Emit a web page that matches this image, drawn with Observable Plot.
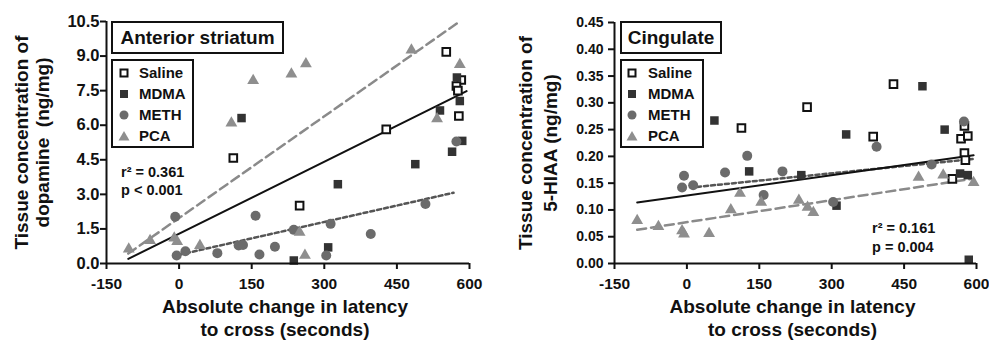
<!DOCTYPE html>
<html><head><meta charset="utf-8">
<script src="https://cdn.jsdelivr.net/npm/d3@7"></script>
<script src="https://cdn.jsdelivr.net/npm/@observablehq/plot@0.6"></script>
<style>
body{margin:0;background:#fff;font-family:"Liberation Sans",Arial,sans-serif;}
#wrap{position:relative;width:989px;height:340px;display:flex;overflow:hidden;}
.box{position:absolute;box-sizing:border-box;border:2px solid #111;background:#fff;}
.title{display:flex;align-items:center;justify-content:center;font-weight:bold;font-size:19px;color:#111;}
.lab{position:absolute;font-weight:bold;font-size:15px;color:#111;line-height:15px;white-space:nowrap;}
.sym{position:absolute;}
.ann{position:absolute;font-weight:bold;font-size:14.5px;color:#111;white-space:nowrap;line-height:18px;}
</style>
</head><body>
<div id="wrap"></div>
<script>
// ---------- shared ----------
const groups = ["Saline", "MDMA", "METH", "PCA"];
const xTicks = [-150, 0, 150, 300, 450, 600];
const xLabel1 = "Absolute change in latency";
const xLabel2 = "to cross (seconds)";

// ---------- Anterior striatum (dopamine, ng/mg) ----------
const striatumYTicks = [0, 1.5, 3, 4.5, 6, 7.5, 9, 10.5];
const striatumSaline = [[112,4.58],[249,2.51],[428,5.82],[552,9.18],[583,7.96],[573,7.7],[576,7.5],[578,6.4]];
const striatumMDMA = [[129,6.31],[237,0.13],[308,0.70],[328,3.44],[488,4.31],[539,6.64],[564,4.85],[585,5.32],[580,7.05],[574,8.07]];
const striatumMETH = [[-8,2.03],[-5,0.35],[13,0.53],[79,0.45],[123,0.78],[132,0.80],[158,2.07],[166,0.39],[198,0.73],[237,1.46],[304,0.35],[313,1.72],[396,1.28],[509,2.58],[573,5.29]];
const striatumPCA = [[-104,0.63],[-60,0.99],[-10,1.1],[-4,0.95],[43,0.78],[108,6.09],[153,7.94],[232,8.22],[249,1.35],[260,0.35],[262,8.66],[480,9.26],[533,6.28],[580,8.63]];
const striatumFitAll = [[-105,0.2],[594,7.48]];
const striatumFitPCA = [[-105,0.43],[577,10.46]];
const striatumFitMETH = [[0,0.38],[567,3.07]];
const striatumStats = ["r² = 0.361", "p < 0.001"];

// ---------- Cingulate (5-HIAA, ng/mg) ----------
const cingulateYTicks = [0, 0.05, 0.10, 0.15, 0.20, 0.25, 0.30, 0.35, 0.40, 0.45];
const cingulateSaline = [[113,0.253],[249,0.292],[428,0.335],[386,0.237],[575,0.257],[568,0.233],[582,0.238],[575,0.206],[577,0.193],[550,0.158]];
const cingulateMDMA = [[57,0.267],[129,0.172],[237,0.165],[310,0.108],[330,0.241],[488,0.331],[534,0.250],[566,0.168],[582,0.165],[584,0.007]];
const cingulateMETH = [[-6,0.164],[-10,0.142],[13,0.146],[79,0.170],[125,0.201],[159,0.128],[198,0.172],[303,0.115],[393,0.218],[507,0.185],[574,0.265]];
const cingulatePCA = [[-103,0.080],[-59,0.069],[-10,0.061],[-6,0.055],[46,0.056],[91,0.100],[110,0.131],[154,0.114],[232,0.118],[250,0.105],[262,0.095],[480,0.161],[531,0.165],[594,0.151]];
const cingulateFitAll = [[-103,0.114],[594,0.202]];
const cingulateFitPCA = [[-103,0.063],[590,0.158]];
const cingulateFitMETH = [[21,0.143],[592,0.195]];
const cingulateStats = ["r² = 0.161", "p = 0.004"];

// ---------- styles ----------
const INK = "#111", MDMA_C = "#333", METH_C = "#6b6b6b", PCA_C = "#8e8e8e";
const dotStyle = {
  Saline: {symbol: "square", r: 4.3, fill: "#fff", stroke: INK, strokeWidth: 2},
  MDMA: {symbol: "square", r: 4.8, fill: MDMA_C, stroke: "none"},
  METH: {symbol: "circle", r: 5, fill: METH_C, stroke: "none"},
  PCA: {symbol: "triangle", r: 4.4, fill: PCA_C, stroke: "none"}
};

function panel(cfg) {
  const xDomain = [xTicks[0], xTicks[xTicks.length - 1]];
  const yDomain = [cfg.yTicks[0], cfg.yTicks[cfg.yTicks.length - 1]];
  const sets = {Saline: cfg.saline, MDMA: cfg.mdma, METH: cfg.meth, PCA: cfg.pca};
  const lbl = {fontSize: 19, fontWeight: "bold", fill: INK, textAnchor: "middle", lineAnchor: "middle"};
  return Plot.plot({
    width: cfg.width, height: 340,
    marginLeft: cfg.marginLeft, marginRight: cfg.marginRight,
    marginTop: cfg.marginTop, marginBottom: 77,
    style: {fontFamily: "'Liberation Sans', Arial, sans-serif", fontWeight: "bold", color: INK, background: "#fff"},
    x: {domain: xDomain},
    y: {domain: yDomain},
    marks: [
      Plot.line(cfg.fitPCA, {x: (p) => p[0], y: (p) => p[1], stroke: "#8a8a8a", strokeWidth: 2.5, strokeDasharray: "9,5"}),
      Plot.line(cfg.fitMETH, {x: (p) => p[0], y: (p) => p[1], stroke: "#555", strokeWidth: 2.5, strokeDasharray: "4,3"}),
      Plot.line(cfg.fitAll, {x: (p) => p[0], y: (p) => p[1], stroke: INK, strokeWidth: 2}),
      ...groups.map((g) => Plot.dot(sets[g], {x: (p) => p[0], y: (p) => p[1], ...dotStyle[g]})),
      Plot.ruleX([xDomain[0]], {y1: yDomain[0], y2: yDomain[1], stroke: INK, strokeWidth: 2}),
      Plot.ruleY([yDomain[0]], {x1: xDomain[0], x2: xDomain[1], stroke: INK, strokeWidth: 2}),
      Plot.axisX({ticks: xTicks, tickSize: 6, tickPadding: 8, tickFormat: (d) => String(d), fontSize: 15.5, fontWeight: "bold", stroke: INK, strokeWidth: 2, label: null}),
      Plot.axisY({ticks: cfg.yTicks, tickSize: 6, tickPadding: cfg.yTickPadding, tickFormat: cfg.yFormat, fontSize: cfg.yFontSize, fontWeight: "bold", stroke: INK, strokeWidth: 2, label: null}),
      Plot.text([xLabel1], {text: (d) => d, frameAnchor: "bottom", dy: 43, dx: -3, ...lbl}),
      Plot.text([xLabel2], {text: (d) => d, frameAnchor: "bottom", dy: 66, dx: -3, ...lbl}),
      Plot.text([cfg.yLabel1], {text: (d) => d, frameAnchor: "left", rotate: -90, dx: cfg.yLabelDx[0], ...lbl}),
      Plot.text([cfg.yLabel2], {text: (d) => d, frameAnchor: "left", rotate: -90, dx: cfg.yLabelDx[1], ...lbl})
    ]
  });
}

const wrap = document.getElementById("wrap");
const left = panel({
  width: 494, marginLeft: 106, marginRight: 25, marginTop: 21,
  yTicks: striatumYTicks, yFormat: (d) => d.toFixed(1), yTickPadding: 1, yFontSize: 16.5,
  saline: striatumSaline, mdma: striatumMDMA, meth: striatumMETH, pca: striatumPCA,
  fitAll: striatumFitAll, fitPCA: striatumFitPCA, fitMETH: striatumFitMETH,
  yLabel1: "Tissue concentration of", yLabel2: "dopamine  (ng/mg)", yLabelDx: [-85, -64]
});
const right = panel({
  width: 495, marginLeft: 120, marginRight: 13, marginTop: 22,
  yTicks: cingulateYTicks, yFormat: (d) => d.toFixed(2), yTickPadding: 5, yFontSize: 14,
  saline: cingulateSaline, mdma: cingulateMDMA, meth: cingulateMETH, pca: cingulatePCA,
  fitAll: cingulateFitAll, fitPCA: cingulateFitPCA, fitMETH: cingulateFitMETH,
  yLabel1: "Tissue concentration of", yLabel2: "5-HIAA (ng/mg)", yLabelDx: [-89, -64]
});
wrap.appendChild(left);
wrap.appendChild(right);

// ---------- overlay: title boxes, legends, stats ----------
function symbolSVG(g) {
  const s = 14;
  let shape = "";
  if (g === "Saline") shape = `<rect x="3.5" y="3.5" width="7" height="7" fill="#fff" stroke="${INK}" stroke-width="2"/>`;
  else if (g === "MDMA") shape = `<rect x="3" y="3" width="8" height="8" fill="${MDMA_C}"/>`;
  else if (g === "METH") shape = `<circle cx="7" cy="7" r="4.5" fill="${METH_C}"/>`;
  else shape = `<path d="M7,2 L12.5,11.5 L1.5,11.5 Z" fill="${PCA_C}"/>`;
  return `<svg width="${s}" height="${s}" viewBox="0 0 ${s} ${s}">${shape}</svg>`;
}
function overlay(o) {
  const t = document.createElement("div");
  t.className = "box title";
  Object.assign(t.style, {left: o.tx + "px", top: "21px", width: o.tw + "px", height: "33px"});
  t.textContent = o.title;
  wrap.appendChild(t);
  const lg = document.createElement("div");
  lg.className = "box";
  Object.assign(lg.style, {left: o.tx + "px", top: "59px", width: o.lw + "px", height: "89px"});
  wrap.appendChild(lg);
  groups.forEach((g, i) => {
    const cy = 73 + 21 * i;
    const s = document.createElement("div");
    s.className = "sym";
    Object.assign(s.style, {left: (o.symX - 7) + "px", top: (cy - 7) + "px", width: "14px", height: "14px"});
    s.innerHTML = symbolSVG(g);
    wrap.appendChild(s);
    const l = document.createElement("div");
    l.className = "lab";
    Object.assign(l.style, {left: o.textX + "px", top: (cy - 8) + "px"});
    l.textContent = g;
    wrap.appendChild(l);
  });
  o.stats.forEach((txt, i) => {
    const a = document.createElement("div");
    a.className = "ann";
    Object.assign(a.style, {left: o.ax + "px", top: (o.ay + o.aStep * i - 9) + "px"});
    a.textContent = txt;
    wrap.appendChild(a);
  });
}
overlay({title: "Anterior striatum", tx: 111, tw: 173, lw: 83, symX: 124, textX: 139, stats: striatumStats, ax: 121, ay: 172, aStep: 18});
overlay({title: "Cingulate", tx: 620, tw: 102, lw: 84, symX: 632, textX: 648, stats: cingulateStats, ax: 872, ay: 228, aStep: 19});
</script>
</body></html>
